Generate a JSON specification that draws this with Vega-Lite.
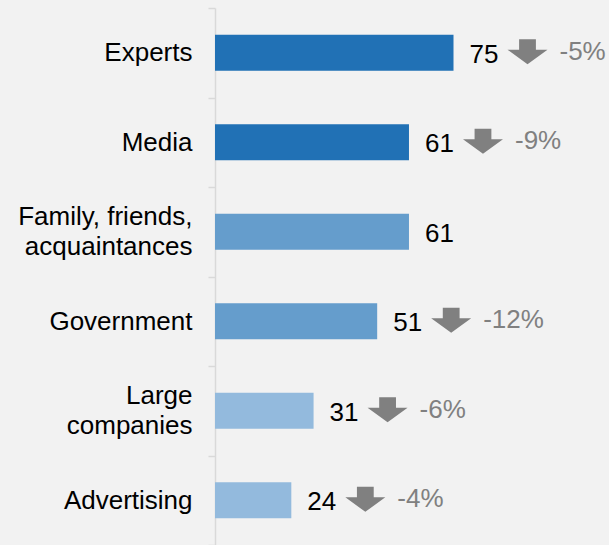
{
  "$schema": "https://vega.github.io/schema/vega-lite/v6.json",
  "width": 318,
  "height": 537,
  "autosize": {"type": "none"},
  "padding": {"left": 215, "top": 8, "right": 76, "bottom": 0},
  "background": "#f2f2f2",
  "config": {"view": {"stroke": null}, "font": "Liberation Sans"},
  "data": {
    "values": [
      {"source": "Experts", "score": 75, "change": "-5%", "tier": "high"},
      {"source": "Media", "score": 61, "change": "-9%", "tier": "high"},
      {"source": "Family, friends,|acquaintances", "score": 61, "change": null, "tier": "mid"},
      {"source": "Government", "score": 51, "change": "-12%", "tier": "mid"},
      {"source": "Large|companies", "score": 31, "change": "-6%", "tier": "low"},
      {"source": "Advertising", "score": 24, "change": "-4%", "tier": "low"}
    ]
  },
  "encoding": {
    "y": {
      "field": "source",
      "type": "nominal",
      "sort": null,
      "scale": {"paddingInner": 0, "paddingOuter": 0},
      "axis": {
        "title": null,
        "labelExpr": "datum.value ? split(datum.value, '|') : ''",
        "labelFont": "Liberation Sans",
        "labelFontSize": 26,
        "labelColor": "#000000",
        "labelLineHeight": 30,
        "labelPadding": 16,
        "labelLimit": 300,
        "labelOffset": {"condition": {"test": "datum.value && indexof(datum.value, '|') >= 0", "value": -15}, "value": 0},
        "tickBand": "extent",
        "tickSize": 7,
        "tickColor": "#d9d9d9",
        "tickWidth": 1.5,
        "domainColor": "#d9d9d9",
        "domainWidth": 1.5,
        "grid": false
      }
    },
    "x": {
      "field": "score",
      "type": "quantitative",
      "scale": {"domain": [0, 100]},
      "axis": null
    }
  },
  "layer": [
    {
      "mark": {"type": "bar", "height": {"band": 0.4}},
      "encoding": {
        "color": {
          "field": "tier",
          "type": "nominal",
          "scale": {"domain": ["high", "mid", "low"], "range": ["#2171b5", "#659dcc", "#93badd"]},
          "legend": null
        }
      }
    },
    {
      "mark": {"type": "text", "align": "left", "baseline": "middle", "dx": 16, "dy": 2, "fontSize": 26, "color": "#000000", "font": "Liberation Sans"},
      "encoding": {"text": {"field": "score", "type": "quantitative"}}
    },
    {
      "transform": [{"filter": "datum.change != null"}],
      "mark": {
        "type": "point",
        "shape": "M-0.42,-0.62 L0.42,-0.62 L0.42,-0.1 L1,-0.1 L0,0.63 L-1,-0.1 L-0.42,-0.1 Z",
        "size": 1600,
        "filled": true,
        "color": "#808080",
        "opacity": 1,
        "strokeWidth": 0,
        "xOffset": 74,
        "yOffset": -1
      }
    },
    {
      "transform": [{"filter": "datum.change != null"}],
      "mark": {"type": "text", "align": "left", "baseline": "middle", "dx": 106, "dy": -1, "fontSize": 26, "color": "#808080", "font": "Liberation Sans"},
      "encoding": {"text": {"field": "change", "type": "nominal"}}
    }
  ]
}
